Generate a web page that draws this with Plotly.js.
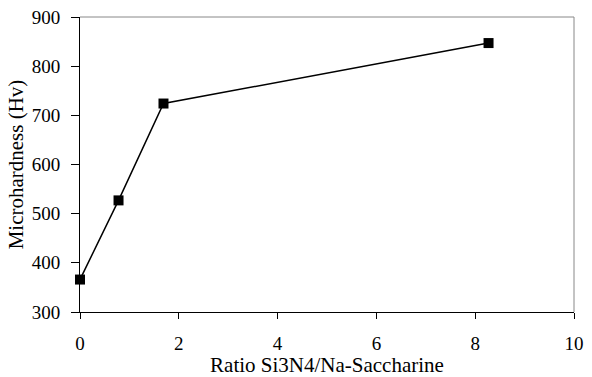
<!DOCTYPE html>
<html>
<head>
<meta charset="utf-8">
<script src="https://cdn.plot.ly/plotly-3.0.1.min.js"></script>
<style>html,body{margin:0;padding:0;background:#fff;}#chart{width:592px;height:377px;}</style>
</head>
<body>
<div id="chart"></div>
<script>
var ratio = [0, 0.78, 1.69, 8.27];
var hardness = [366, 527, 724, 847];
var xTicks = [0, 2, 4, 6, 8, 10];
var yTicks = [300, 400, 500, 600, 700, 800, 900];

var serif = 'serif';
var trace = {
  x: ratio, y: hardness, type: 'scatter', mode: 'lines+markers',
  line: {color: '#000', width: 1.5},
  marker: {symbol: 'square', size: 10, color: '#000'},
  showlegend: false, cliponaxis: false
};
var layout = {
  width: 592, height: 377,
  margin: {l: 80, r: 18, t: 17, b: 65},
  paper_bgcolor: '#fff', plot_bgcolor: '#fff',
  font: {family: serif, size: 19, color: '#000'},
  xaxis: {
    range: [0, 10], tickvals: xTicks, ticktext: xTicks.map(String),
    showgrid: false, zeroline: false, showline: true, linecolor: '#000', linewidth: 1,
    ticks: 'outside', ticklen: 6, tickcolor: '#000', ticklabelstandoff: 8,
    tickfont: {family: serif, size: 19},
    title: {text: 'Ratio Si3N4/Na-Saccharine', standoff: 4, font: {family: serif, size: 21}}
  },
  yaxis: {
    range: [300, 900], tickvals: yTicks, ticktext: yTicks.map(String),
    showgrid: false, zeroline: false, showline: true, linecolor: '#000', linewidth: 1,
    ticks: 'outside', ticklen: 8, tickcolor: '#000', ticklabelstandoff: 7,
    tickfont: {family: serif, size: 19},
    title: {text: 'Microhardness (Hv)', standoff: 2, font: {family: serif, size: 21}}
  },
  shapes: [
    {type: 'line', xref: 'paper', yref: 'paper', x0: 0, x1: 1, y0: 1, y1: 1, line: {color: '#888', width: 1}},
    {type: 'line', xref: 'paper', yref: 'paper', x0: 1, x1: 1, y0: 0, y1: 1, line: {color: '#888', width: 1}}
  ]
};
Plotly.newPlot('chart', [trace], layout, {staticPlot: true});
</script>
</body>
</html>
